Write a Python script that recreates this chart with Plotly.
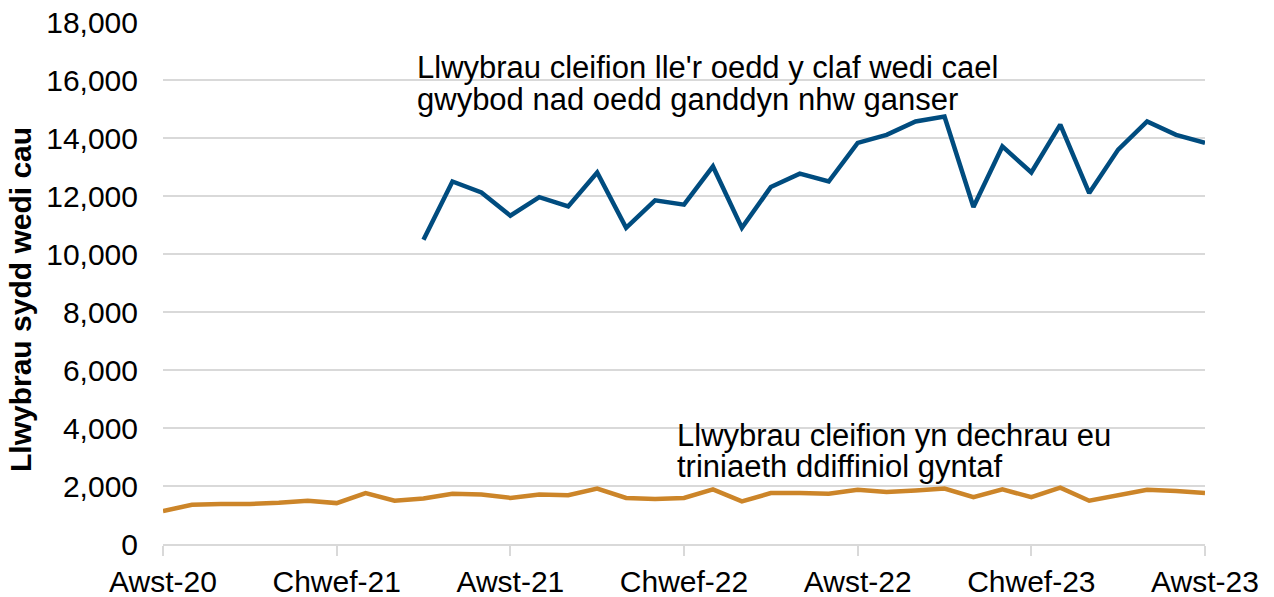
import plotly.graph_objects as go

# Months Aug-2020 .. Aug-2023 (Welsh abbreviations, Jan-first order)
month_names = ["Ion", "Chwef", "Maw", "Ebr", "Mai", "Meh", "Gorff",
               "Awst", "Medi", "Hyd", "Tach", "Rhag"]
months = []
for i in range(37):
    m = (7 + i) % 12
    yr = 20 + (7 + i) // 12
    months.append(f"{month_names[m]}-{yr}")

# Patient pathways closed: told they did not have cancer (starts May-21)
not_cancer = [None] * 9 + [
    10490, 12500, 12120, 11320, 11960, 11640, 12810, 10900,
    11850, 11700, 13020, 10900, 12310, 12770,
    12500, 13830, 14110, 14570, 14740, 11620, 13710, 12810,
    14460, 12100, 13600, 14570, 14110, 13830,
]

# Patient pathways starting first definitive treatment
first_treatment = [
    1140, 1350, 1380, 1380, 1420, 1490, 1410, 1755, 1490, 1570,
    1730, 1710, 1590, 1710, 1680, 1910, 1590, 1550, 1590,
    1886, 1470, 1755, 1755, 1731, 1872, 1790, 1848, 1910, 1614,
    1886, 1614, 1945, 1493, 1672, 1872, 1828, 1755,
]

tick_labels = [months[i] for i in range(0, 37, 6)]

blue = "#004c7f"
orange = "#cc8529"
font_family = "Liberation Sans, Arial, sans-serif"

fig = go.Figure()
fig.add_trace(go.Scatter(x=months, y=first_treatment, mode="lines",
                         line=dict(color=orange, width=4.5), showlegend=False))
fig.add_trace(go.Scatter(x=months, y=not_cancer, mode="lines",
                         line=dict(color=blue, width=4.5), showlegend=False,
                         connectgaps=False))

# page body has an 8px offset; figure sized/margined to compensate
OFF = 8
W, H = 1274 - OFF, 597 - OFF
L, R, T, B = 155, 69, 14, 53
pw, ph = W - L - R, H - T - B
x0, y1 = OFF + L, OFF + T + ph   # page coords of plot left / bottom

def px(x):
    return (x - x0) / pw

def py(y):
    return (y1 - y) / ph

ann = []
def add_text(text, x, y, size=31):
    ann.append(dict(text=text, xref="paper", yref="paper", x=px(x), y=py(y),
                    xanchor="left", yanchor="middle", showarrow=False,
                    font=dict(size=size, color="#000000", family=font_family)))

add_text("Llwybrau cleifion lle'r oedd y claf wedi cael", 415, 68)
add_text("gwybod nad oedd ganddyn nhw ganser", 415, 99)
add_text("Llwybrau cleifion yn dechrau eu", 675, 435)
add_text("triniaeth ddiffiniol gyntaf", 675, 466)

ann.append(dict(text="<b>Llwybrau sydd wedi cau</b>", xref="paper", yref="paper",
                x=px(20), y=py(300), xanchor="center", yanchor="middle",
                textangle=-90, showarrow=False,
                font=dict(size=30, color="#000000", family=font_family)))

fig.update_layout(
    width=W, height=H,
    margin=dict(l=L, r=R, t=T, b=B, pad=0),
    paper_bgcolor="white", plot_bgcolor="white",
    font=dict(family=font_family, color="#000000", size=30),
    annotations=ann,
    xaxis=dict(
        type="category", range=[0, 36], automargin=False,
        tickmode="array", tickvals=tick_labels, ticktext=tick_labels,
        ticks="outside", ticklen=10, tickcolor="#d9d9d9", tickwidth=1.5,
        showline=True, linecolor="#d9d9d9", linewidth=1.5,
        showgrid=False, zeroline=False,
        tickfont=dict(size=30), ticklabeloverflow="allow",
    ),
    yaxis=dict(
        range=[0, 18000], tickvals=list(range(0, 18001, 2000)),
        tickformat=",d", automargin=False,
        showgrid=True, gridcolor="#d9d9d9", gridwidth=1.5,
        zeroline=False, showline=False,
        ticks="outside", ticklen=18, tickcolor="rgba(0,0,0,0)",
        tickfont=dict(size=30), ticklabeloverflow="allow",
    ),
)

fig.write_html("out.html")
